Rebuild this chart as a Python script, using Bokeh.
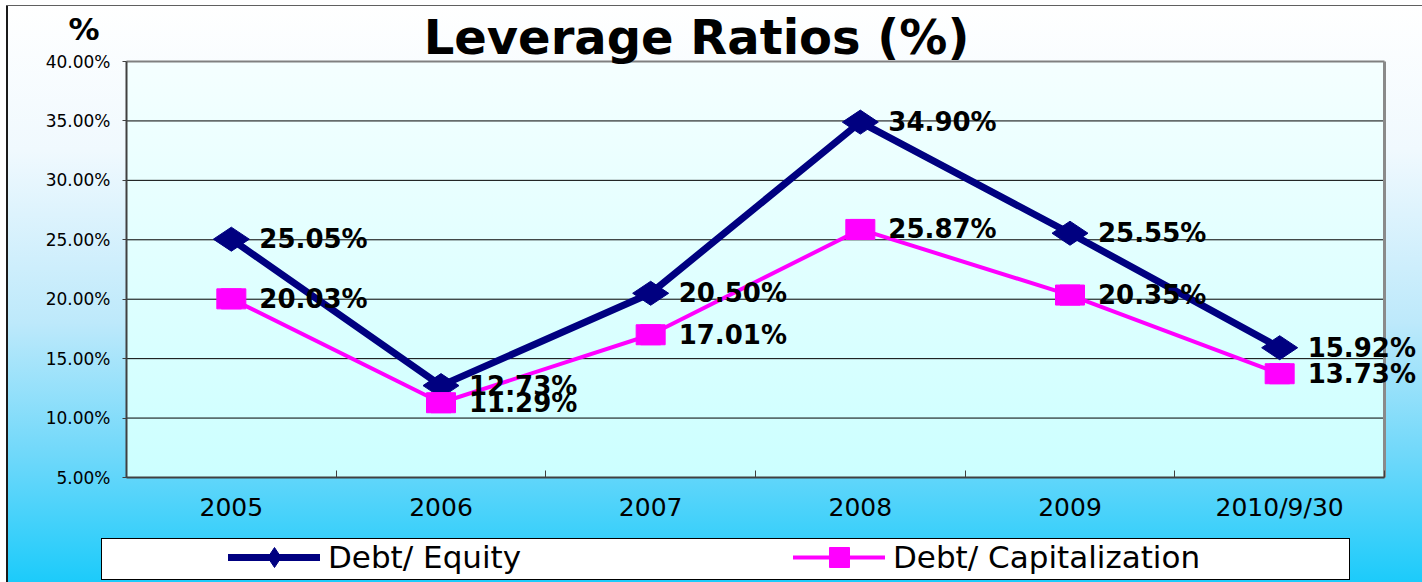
import math
from bokeh.plotting import figure
from bokeh.models import (ColumnDataSource, LabelSet, Label, Legend, LegendItem,
                          FixedTicker, PrintfTickFormatter, Range1d)
from bokeh.core.properties import value
from bokeh.embed import file_html
from bokeh.resources import INLINE

# ---------------- data ----------------
categories = ["2005", "2006", "2007", "2008", "2009", "2010/9/30"]
debt_equity = [25.05, 12.73, 20.50, 34.90, 25.55, 15.92]
debt_capitalization = [20.03, 11.29, 17.01, 25.87, 20.35, 13.73]
y_ticks = [5, 10, 15, 20, 25, 30, 35, 40]
series_names = ["Debt/ Equity", "Debt/ Capitalization"]
title_text = "Leverage Ratios (%)"
unit_text = "%"

NAVY = "#000080"
MAGENTA = "#ff00ff"
FONT = "DejaVu Sans"

# layout (pixels) -- the frame covers the whole canvas, axes are placed at fixed locations
W, H = 1422, 582
LEFT, RIGHT, TOP, BOTTOM = 126, 1384, 61, 477
PLOT_W, PLOT_H = RIGHT - LEFT, BOTTOM - TOP

n = len(categories)
xs = list(range(n))
y0, y1 = y_ticks[0], y_ticks[-1]
ux = PLOT_W / n                 # pixels per category
uy = PLOT_H / (y1 - y0)         # pixels per percentage point

src = ColumnDataSource(dict(
    x=xs,
    de=debt_equity,
    dc=debt_capitalization,
    de_lbl=[f"{v:.2f}%" for v in debt_equity],
    dc_lbl=[f"{v:.2f}%" for v in debt_capitalization],
))

p = figure(width=W, height=H, output_backend="svg", toolbar_location=None,
           x_range=Range1d(-0.5 - LEFT / ux, -0.5 + (W - LEFT) / ux),
           y_range=Range1d(y0 - (H - BOTTOM) / uy, y0 + BOTTOM / uy),
           min_border=0, min_border_left=0, min_border_right=0,
           min_border_top=0, min_border_bottom=0)
p.title.visible = False
p.background_fill_alpha = 0
p.border_fill_alpha = 0
p.outline_line_color = None

p.styles = {
    "background": (
        # legend box (white with black border)
        "linear-gradient(#ffffff,#ffffff) 102px 539px / 1247px 40px no-repeat, "
        "linear-gradient(#000000,#000000) 101px 538px / 1249px 42px no-repeat, "
        # plotting area
        f"linear-gradient(180deg,#f5ffff 0%,#ccffff 100%) {LEFT}px {TOP}px / {PLOT_W}px {PLOT_H}px no-repeat, "
        # outer panel border
        "linear-gradient(#1a1a1a,#1a1a1a) 6px 6px / 2px 576px no-repeat, "
        "linear-gradient(#606060,#606060) 6px 5px / 1416px 1px no-repeat, "
        # outer panel gradient
        "linear-gradient(180deg,#ffffff 0%,#f0f9fe 25%,#bde9fb 55%,#6fd8fa 78%,#1ccbfa 100%) 8px 6px / 1414px 576px no-repeat, "
        "#ffffff"
    ),
}

# ---------------- axes ----------------
p.xaxis.fixed_location = y0
p.xaxis.ticker = FixedTicker(ticks=xs, minor_ticks=[i - 0.5 for i in range(n + 1)])
p.xaxis.bounds = (-0.5, n - 0.5)
p.xaxis.major_label_overrides = {i: c for i, c in enumerate(categories)}
p.xaxis.major_tick_in = 0
p.xaxis.major_tick_out = 0
p.xaxis.minor_tick_in = 7
p.xaxis.minor_tick_out = 0
p.xaxis.minor_tick_line_color = "#404040"
p.xaxis.axis_line_color = "#404040"
p.xaxis.axis_line_width = 2
p.xaxis.major_label_text_font = FONT
p.xaxis.major_label_text_font_size = "25px"
p.xaxis.major_label_text_color = "black"
p.xaxis.major_label_standoff = 15

p.yaxis.fixed_location = -0.5
p.yaxis.ticker = FixedTicker(ticks=y_ticks)
p.yaxis.bounds = (y0, y1)
p.yaxis.formatter = PrintfTickFormatter(format="%.2f%%")
p.yaxis.major_tick_in = 0
p.yaxis.major_tick_out = 4
p.yaxis.major_tick_line_color = "#404040"
p.yaxis.minor_tick_line_color = None
p.yaxis.axis_line_color = "#404040"
p.yaxis.axis_line_width = 2
p.yaxis.major_label_text_font = FONT
p.yaxis.major_label_text_font_size = "17px"
p.yaxis.major_label_text_color = "black"
p.yaxis.major_label_standoff = 12

p.xgrid.visible = False
p.ygrid.visible = False

# grid lines and the top / right border of the plotting area
inner = y_ticks[1:-1]
p.segment(x0=[-0.5] * len(inner), x1=[n - 0.5] * len(inner), y0=inner, y1=inner,
          line_color="black", line_width=1)
p.segment(x0=[-0.5], x1=[n - 0.5], y0=[y1], y1=[y1], line_color="#808080", line_width=2)
p.segment(x0=[n - 0.5], x1=[n - 0.5], y0=[y0], y1=[y1], line_color="#8a8a8a", line_width=3)

# ---------------- series ----------------
de_line = p.line("x", "de", source=src, line_color=NAVY, line_width=7,
                 line_join="round", line_cap="round")
de_mark = p.scatter("x", "de", source=src, marker="diamond", size=36, angle=math.pi / 2,
                    fill_color=NAVY, line_color=NAVY)
dc_line = p.line("x", "dc", source=src, line_color=MAGENTA, line_width=4,
                 line_join="round", line_cap="round")
dc_mark = p.scatter("x", "dc", source=src, marker="square", size=20,
                    fill_color=MAGENTA, line_color=MAGENTA)
p.rect("x", "dc", source=src, width=29, height=20, width_units="screen",
       height_units="screen", fill_color=MAGENTA, line_color=MAGENTA)

for col, lbl in (("de", "de_lbl"), ("dc", "dc_lbl")):
    p.add_layout(LabelSet(x="x", y=col, text=lbl, source=src, x_offset=28,
                          text_baseline="middle", text_align="left",
                          text_font=value(FONT), text_font_style="bold",
                          text_font_size="26px", text_color="black"))

# ---------------- legend ----------------
legend = Legend(items=[LegendItem(label=series_names[0], renderers=[de_line, de_mark]),
                       LegendItem(label=series_names[1], renderers=[dc_line, dc_mark])],
                orientation="horizontal", location=(228, 0),
                glyph_width=92, glyph_height=50, label_standoff=8, label_width=465,
                spacing=0, padding=0, margin=0,
                background_fill_alpha=0, border_line_alpha=0,
                label_text_font=FONT, label_text_font_size="31px",
                label_text_color="black")
p.add_layout(legend)

# ---------------- titles ----------------
p.add_layout(Label(x=696, y=H - 36, x_units="screen", y_units="screen", text=title_text,
                   text_align="center", text_baseline="alphabetic", text_font=FONT,
                   text_font_style="bold", text_font_size="48px", text_color="black"))
p.add_layout(Label(x=68, y=H - 28, x_units="screen", y_units="screen", text=unit_text,
                   text_align="left", text_baseline="alphabetic", text_font=FONT,
                   text_font_style="bold", text_font_size="31px", text_color="black"))

open("out.html", "w").write(file_html(p, INLINE))
